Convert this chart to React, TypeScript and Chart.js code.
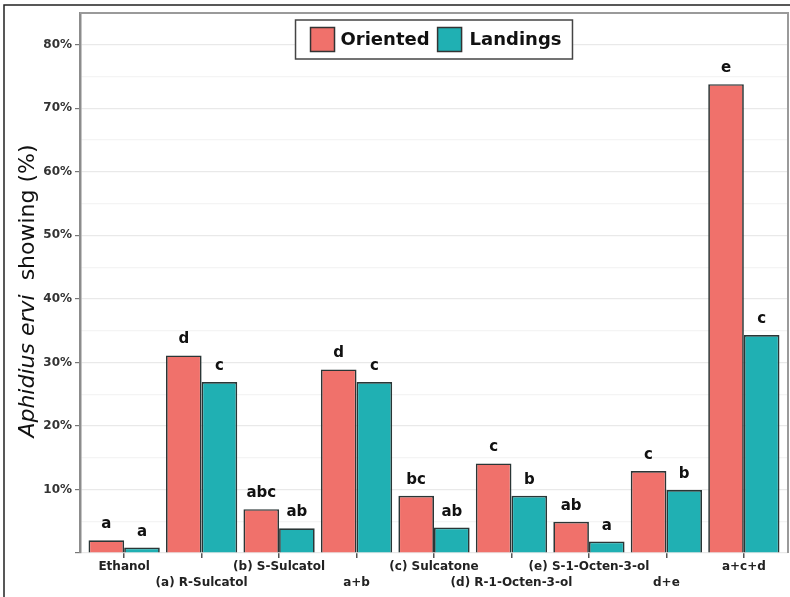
import React, { useEffect, useRef } from 'react';
import { Chart, registerables } from 'chart.js';

Chart.register(...registerables);

const categories = [
  'Ethanol',
  '(a) R-Sulcatol',
  '(b) S-Sulcatol',
  'a+b',
  '(c) Sulcatone',
  '(d) R-1-Octen-3-ol',
  '(e) S-1-Octen-3-ol',
  'd+e',
  'a+c+d',
];
const seriesNames = ['Oriented', 'Landings'];
const orientedValues = [2.0, 31.1, 6.9, 28.9, 9.0, 14.1, 4.9, 12.9, 73.8];
const landingsValues = [0.85, 26.9, 3.9, 26.9, 4.0, 9.0, 1.8, 9.9, 34.3];
const orientedLetters = ['a', 'd', 'abc', 'd', 'bc', 'c', 'ab', 'c', 'e'];
const landingsLetters = ['a', 'c', 'ab', 'c', 'ab', 'b', 'a', 'b', 'c'];
const yMax = 85;
const yStep = 5;
const yLabelStep = 10;

const FONT = '"DejaVu Sans", "Liberation Sans", Arial, sans-serif';
const ORANGE = '#F0716B';
const TEAL = '#20B0B3';
const EDGE = '#2A3636';

const bgPlugin = {
  id: 'bg',
  beforeDraw(chart: any) {
    const { ctx, width, height } = chart;
    ctx.save();
    ctx.fillStyle = '#ffffff';
    ctx.fillRect(0, 0, width, height);
    ctx.strokeStyle = '#222';
    ctx.lineWidth = 1.5;
    ctx.beginPath();
    ctx.moveTo(width, 5);
    ctx.lineTo(4, 5);
    ctx.lineTo(4, height);
    ctx.stroke();
    ctx.restore();
  },
};

const framePlugin = {
  id: 'frame',
  afterDraw(chart: any) {
    const { ctx, chartArea } = chart;
    ctx.save();
    ctx.strokeStyle = '#9a9a9a';
    ctx.lineWidth = 2;
    ctx.beginPath();
    ctx.moveTo(chartArea.left, chartArea.top);
    ctx.lineTo(chartArea.right, chartArea.top);
    ctx.lineTo(chartArea.right, chartArea.bottom);
    ctx.stroke();
    ctx.restore();
  },
};

const letterPlugin = {
  id: 'letters',
  afterDatasetsDraw(chart: any) {
    const { ctx } = chart;
    const sets = [orientedLetters, landingsLetters];
    ctx.save();
    ctx.font = `bold 15px ${FONT}`;
    ctx.fillStyle = '#111';
    ctx.textAlign = 'center';
    ctx.textBaseline = 'alphabetic';
    sets.forEach((letters, di) => {
      const meta = chart.getDatasetMeta(di);
      meta.data.forEach((bar: any, i: number) => {
        ctx.fillText(letters[i], bar.x, bar.y - 12);
      });
    });
    ctx.restore();
  },
};

const legendPlugin = {
  id: 'boxLegend',
  afterDraw(chart: any) {
    const { ctx, chartArea } = chart;
    const colors = [ORANGE, TEAL];
    ctx.save();
    ctx.font = `bold 18px ${FONT}`;
    const w0 = ctx.measureText(seriesNames[0]).width;
    const w1 = ctx.measureText(seriesNames[1]).width;
    const sq = 24;
    const total = 15 + sq + 6 + w0 + 8 + sq + 8 + w1 + 11;
    const h = 39;
    const cx = (chartArea.left + chartArea.right) / 2;
    const x0 = cx - total / 2;
    const y0 = chartArea.top + 7;
    ctx.fillStyle = '#fff';
    ctx.fillRect(x0, y0, total, h);
    ctx.strokeStyle = '#444';
    ctx.lineWidth = 1.5;
    ctx.strokeRect(x0, y0, total, h);
    let x = x0 + 15;
    const sy = y0 + (h - sq) / 2;
    [w0, w1].forEach((w, i) => {
      ctx.fillStyle = colors[i];
      ctx.fillRect(x, sy, sq, sq);
      ctx.strokeStyle = '#333';
      ctx.lineWidth = 1.5;
      ctx.strokeRect(x, sy, sq, sq);
      x += sq + (i === 0 ? 6 : 8);
      ctx.fillStyle = '#111';
      ctx.textAlign = 'left';
      ctx.textBaseline = 'middle';
      ctx.fillText(seriesNames[i], x, y0 + h / 2 + 1);
      x += w + 8;
    });
    ctx.restore();
  },
};

const yTitlePlugin = {
  id: 'yTitle',
  afterDraw(chart: any) {
    const { ctx, chartArea } = chart;
    const part1 = 'Aphidius ervi';
    const part2 = '  showing (%)';
    ctx.save();
    ctx.translate(28, (chartArea.top + chartArea.bottom) / 2 + 8);
    ctx.rotate(-Math.PI / 2);
    ctx.fillStyle = '#111';
    ctx.textBaseline = 'middle';
    ctx.textAlign = 'left';
    const f1 = `italic 22px ${FONT}`;
    const f2 = `22px ${FONT}`;
    ctx.font = f1;
    const a = ctx.measureText(part1).width;
    ctx.font = f2;
    const b = ctx.measureText(part2).width;
    const start = -(a + b) / 2;
    ctx.font = f1;
    ctx.fillText(part1, start, 0);
    ctx.font = f2;
    ctx.fillText(part2, start + a, 0);
    ctx.restore();
  },
};

export default function App() {
  const ref = useRef<HTMLCanvasElement | null>(null);

  useEffect(() => {
    if (!ref.current) return;
    const tickLabels = categories.map((c, i) => (i % 2 === 1 ? ['', c] : [c]));
    const chart = new Chart(ref.current, {
      type: 'bar',
      data: {
        datasets: [
          {
            label: seriesNames[0],
            data: categories.map((_, i) => ({ x: i, y: orientedValues[i] })),
            backgroundColor: ORANGE,
            borderColor: EDGE,
            borderWidth: 1.7,
            borderSkipped: 'bottom',
          },
          {
            label: seriesNames[1],
            data: categories.map((_, i) => ({ x: i, y: landingsValues[i] })),
            backgroundColor: TEAL,
            borderColor: EDGE,
            borderWidth: 1.7,
            borderSkipped: 'bottom',
          },
        ],
      },
      options: {
        animation: false,
        responsive: false,
        maintainAspectRatio: false,
        layout: { padding: { left: 8, top: 13, right: 2, bottom: 0 } },
        datasets: { bar: { categoryPercentage: 0.92, barPercentage: 1.0 } },
        plugins: {
          legend: { display: false },
          tooltip: { enabled: false },
        },
        scales: {
          x: {
            type: 'linear',
            min: -0.57,
            max: categories.length - 1 + 0.57,
            offset: false,
            afterBuildTicks: (scale: any) => {
              scale.ticks = categories.map((_, i) => ({ value: i }));
            },
            afterFit: (scale: any) => {
              scale.height = 44;
            },
            grid: {
              display: true,
              offset: false,
              drawOnChartArea: false,
              drawTicks: true,
              tickLength: 5,
              tickColor: '#555',
              lineWidth: 1.5,
            },
            border: { display: false },
            ticks: {
              autoSkip: false,
              maxRotation: 0,
              minRotation: 0,
              padding: 0,
              color: '#222',
              font: { family: FONT, size: 12, weight: 'bold', lineHeight: 1.4 },
              callback: (v: any) => tickLabels[Math.round(Number(v))] ?? '',
            },
          },
          y: {
            min: 0,
            max: yMax,
            afterFit: (scale: any) => {
              scale.width = 72;
            },
            grid: {
              color: (c: any) =>
                c.tick && c.tick.value % yLabelStep === 0 ? '#e9e9e9' : '#f4f4f4',
              tickColor: (c: any) =>
                c.tick && c.tick.value % yLabelStep === 0 ? '#777' : 'rgba(0,0,0,0)',
              tickLength: 5,
              lineWidth: 1.2,
            },
            border: { display: true, color: '#8c8c8c', width: 2.5 },
            ticks: {
              stepSize: yStep,
              padding: 3,
              color: '#333',
              font: { family: FONT, size: 12, weight: 'bold' },
              callback: (v: any) =>
                Number(v) % yLabelStep === 0 && Number(v) > 0 ? `${v}%` : '',
            },
          },
        },
      },
      plugins: [bgPlugin, framePlugin, letterPlugin, legendPlugin, yTitlePlugin],
    } as any);
    return () => chart.destroy();
  }, []);

  return (
    <div style={{ position: 'fixed', left: 0, top: 0, width: 790, height: 597 }}>
      <canvas ref={ref} width={790} height={597} style={{ width: 790, height: 597, display: 'block' }} />
    </div>
  );
}
